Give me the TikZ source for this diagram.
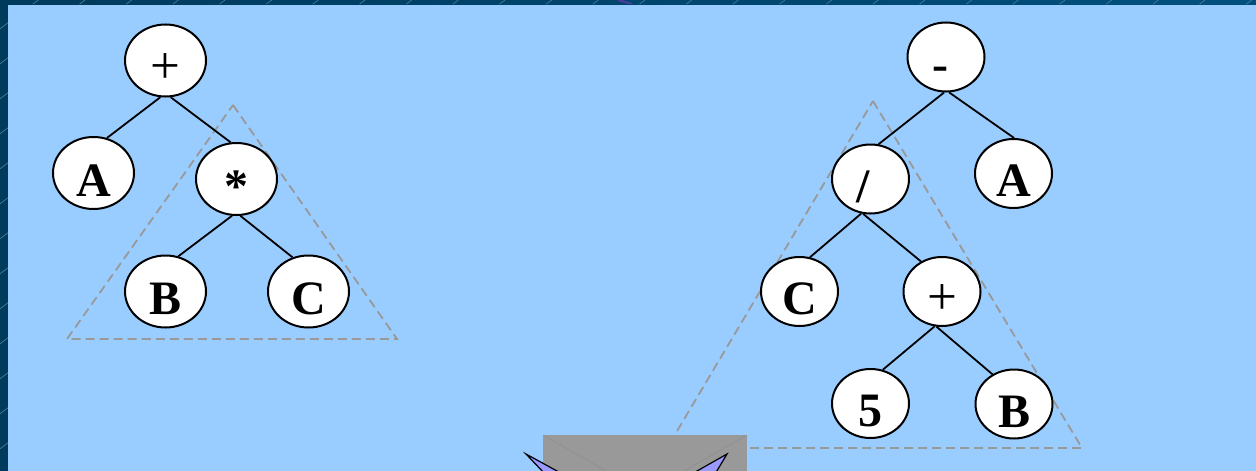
\documentclass[tikz,border=0pt]{standalone}
\usepackage{fontspec}
\setmainfont{Liberation Serif}
\usetikzlibrary{shapes.geometric}
\definecolor{bgblue}{HTML}{99CCFF}
\definecolor{bandleft}{HTML}{003A5C}
\definecolor{bandtop}{HTML}{00507E}
\definecolor{hatchc}{HTML}{4F7F9F}
\definecolor{tri}{HTML}{999999}
\definecolor{rectgrey}{HTML}{999999}
\definecolor{faintline}{HTML}{8E8E8E}
\definecolor{spikec}{HTML}{9999FF}
\definecolor{blobc}{HTML}{4B3C9C}
\tikzset{
  treenode/.style={ellipse, draw=black, line width=2pt, fill=white, inner sep=0pt,
    text height=46pt, text depth=0pt, font=\fontsize{48}{48}\selectfont\bfseries},
  lnode/.style={treenode, minimum width=81pt, minimum height=72pt},
  rnode/.style={treenode, minimum width=77pt, minimum height=69pt},
  plainop/.style={font=\fontsize{53}{53}\selectfont\mdseries},
  branch/.style={line width=1.8pt, draw=black},
  subtree/.style={draw=tri, dash pattern=on 9pt off 5pt, line width=1.8pt},
  hatch/.style={draw=hatchc, line width=0.6pt},
  faint/.style={draw=faintline, line width=0.5pt},
  spike/.style={fill=spikec, draw=black, line width=1.2pt, line join=miter},
}
\begin{document}
\begin{tikzpicture}[x=1pt,y=-1pt]
\useasboundingbox (0,0) rectangle (1256,471);
\fill[bgblue] (0,0) rectangle (1256,471);
% dark border bands
\fill[bandleft] (0,0) rectangle (8,471);
\shade[left color=bandleft, right color=bandtop] (8,0) rectangle (1256,4);
\begin{scope}
  \clip (0,0) rectangle (8,471) (8,0) rectangle (1256,4);
  \foreach \k in {0,...,27} {
    \pgfmathsetmacro\cc{115+140*\k}
    \draw[hatch] (0,{\cc/4}) -- ({\cc/3},0);
  }
  \draw[draw=blobc, line width=2.2pt] (618,0) -- (632,4);
\end{scope}
% dashed subtree triangles
\draw[subtree] (233,105) -- (397,339) -- (67,339) -- cycle;
\draw[subtree] (873,101) -- (1082,448) -- (667,448) -- cycle;
% left tree
\node[lnode, plainop] (lplus) at (165.5,60.5) {+};
\node[lnode] (la) at (93.5,173) {A};
\node[lnode] (lstar) at (236.5,179) {*};
\node[lnode] (lb) at (165.5,291.5) {B};
\node[lnode] (lc) at (308.5,291.5) {C};
\draw[branch] (lplus.262) -- (la.69);
\draw[branch] (lplus.278) -- (lstar.99);
\draw[branch] (lstar.263) -- (lb.70);
\draw[branch] (lstar.276) -- (lc.115);
% right tree
\node[rnode] (rminus) at (946,57) {-\kern12pt};
\node[rnode] (rslash) at (870.5,179) {/\kern14pt};
\node[rnode] (ra) at (1013.5,173.5) {A};
\node[rnode] (rc) at (799.5,291.5) {C};
\node[rnode, plainop] (rplus) at (942,291.5) {+};
\node[rnode] (rfive) at (870.5,403.5) {5};
\node[rnode] (rb) at (1014,404) {B};
\draw[branch] (rminus.267) -- (rslash.77);
\draw[branch] (rminus.275) -- (ra.89);
\draw[branch] (rslash.255) -- (rc.73);
\draw[branch] (rslash.258) -- (rplus.125);
\draw[branch] (rplus.258) -- (rfive.70);
\draw[branch] (rplus.261) -- (rb.126);
% grey box at the bottom
\fill[rectgrey] (543,435) rectangle (747,475);
\begin{scope}
  \clip (543,435) rectangle (747,471);
  \draw[faint] (543,435) -- ++(330,188);
  \draw[faint] (747,435) -- ++(-330,188);
\end{scope}
% violet spikes
\begin{scope}
  \clip (0,0) rectangle (1256,471);
  \filldraw[spike] (526,454) -- (562.5,474) -- (545,474) -- cycle;
  \filldraw[spike] (727,454) -- (691.7,474) -- (715,474) -- cycle;
\end{scope}
\end{tikzpicture}
\end{document}
